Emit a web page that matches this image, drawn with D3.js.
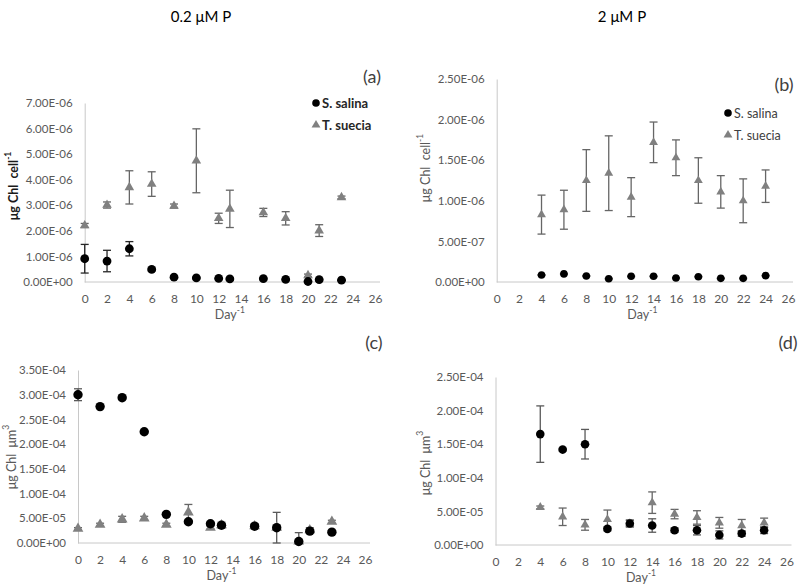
<!DOCTYPE html>
<html>
<head>
<meta charset="utf-8">
<script src="https://cdn.jsdelivr.net/npm/d3@7"></script>
<style>
  html, body { margin: 0; padding: 0; background: #fff; }
  svg { display: block; font-family: Lato, "Open Sans", sans-serif; }
</style>
</head>
<body>
<svg id="chart" width="800" height="584"></svg>
<script>
// ---------- DATA ----------
const titles = ["0.2 μM P", "2 μM P"];
const seriesNames = ["S. salina", "T. suecia"];
const xTicks = [0,2,4,6,8,10,12,14,16,18,20,22,24,26];

// Panel (a): 0.2 µM P, µg Chl cell-1
const daysA = [0,2,4,6,8,10,12,13,16,18,20,21,23];
const salinaA = [0.91e-6,0.82e-6,1.30e-6,0.49e-6,0.19e-6,0.16e-6,0.14e-6,0.12e-6,0.13e-6,0.10e-6,0.02e-6,0.09e-6,0.07e-6];
const salinaAErr = [0.56e-6,0.42e-6,0.28e-6,0.05e-6,0.02e-6,0.02e-6,0.02e-6,0.02e-6,0.02e-6,0.02e-6,0.02e-6,0.02e-6,0.02e-6];
const sueciaA = [2.21e-6,3.01e-6,3.70e-6,3.83e-6,2.97e-6,4.74e-6,2.49e-6,2.86e-6,2.72e-6,2.49e-6,0.26e-6,2.01e-6,3.31e-6];
const sueciaAErr = [0.08e-6,0.12e-6,0.65e-6,0.48e-6,0.08e-6,1.25e-6,0.20e-6,0.73e-6,0.16e-6,0.26e-6,0.05e-6,0.23e-6,0.05e-6];
const yTicksA = [0,1e-6,2e-6,3e-6,4e-6,5e-6,6e-6,7e-6];

// Panel (b): 2 µM P, µg Chl cell-1
const daysB = [4,6,8,10,12,14,16,18,20,22,24];
const salinaB = [0.086e-6,0.10e-6,0.074e-6,0.04e-6,0.07e-6,0.07e-6,0.049e-6,0.065e-6,0.045e-6,0.045e-6,0.078e-6];
const salinaBErr = [0.005e-6,0.005e-6,0.005e-6,0.005e-6,0.005e-6,0.005e-6,0.005e-6,0.005e-6,0.005e-6,0.005e-6,0.005e-6];
const sueciaB = [0.83e-6,0.89e-6,1.25e-6,1.34e-6,1.045e-6,1.72e-6,1.53e-6,1.25e-6,1.11e-6,1.00e-6,1.18e-6];
const sueciaBErr = [0.24e-6,0.24e-6,0.38e-6,0.46e-6,0.24e-6,0.25e-6,0.22e-6,0.28e-6,0.20e-6,0.27e-6,0.20e-6];
const yTicksB = [0,0.5e-6,1e-6,1.5e-6,2e-6,2.5e-6];

// Panel (c): 0.2 µM P, µg Chl µm3
const daysC = [0,2,4,6,8,10,12,13,16,18,20,21,23];
const salinaC = [3.00e-4,2.76e-4,2.94e-4,2.25e-4,0.58e-4,0.43e-4,0.39e-4,0.36e-4,0.34e-4,0.31e-4,0.03e-4,0.24e-4,0.22e-4];
const salinaCErr = [0.12e-4,0.02e-4,0.02e-4,0.02e-4,0.02e-4,0.02e-4,0.03e-4,0.03e-4,0.03e-4,0.31e-4,0.18e-4,0.03e-4,0.02e-4];
const sueciaC = [0.29e-4,0.37e-4,0.48e-4,0.50e-4,0.37e-4,0.62e-4,0.31e-4,0.36e-4,0.34e-4,0.31e-4,0.03e-4,0.26e-4,0.43e-4];
const sueciaCErr = [0.02e-4,0.03e-4,0.06e-4,0.04e-4,0.03e-4,0.16e-4,0.03e-4,0.06e-4,0.05e-4,0.03e-4,0.03e-4,0.05e-4,0.03e-4];
const yTicksC = [0,0.5e-4,1e-4,1.5e-4,2e-4,2.5e-4,3e-4,3.5e-4];

// Panel (d): 2 µM P, µg Chl µm3
const daysD = [4,6,8,10,12,14,16,18,20,22,24];
const salinaD = [1.65e-4,1.42e-4,1.50e-4,0.24e-4,0.32e-4,0.29e-4,0.22e-4,0.22e-4,0.15e-4,0.17e-4,0.22e-4];
const salinaDErr = [0.42e-4,0.02e-4,0.22e-4,0.03e-4,0.05e-4,0.10e-4,0.03e-4,0.07e-4,0.06e-4,0.04e-4,0.05e-4];
const sueciaD = [0.56e-4,0.42e-4,0.30e-4,0.38e-4,0.32e-4,0.63e-4,0.46e-4,0.41e-4,0.33e-4,0.29e-4,0.33e-4];
const sueciaDErr = [0.02e-4,0.13e-4,0.08e-4,0.14e-4,0.05e-4,0.16e-4,0.07e-4,0.10e-4,0.08e-4,0.09e-4,0.07e-4];
const yTicksD = [0,0.5e-4,1e-4,1.5e-4,2e-4,2.5e-4];

// ---------- HELPERS ----------
function excelSci(v) {
  if (v === 0) return "0.00E+00";
  const e = Math.floor(Math.log10(Math.abs(v)) + 1e-9);
  const m = v / Math.pow(10, e);
  const sign = e < 0 ? "-" : "+";
  const ae = Math.abs(e);
  return m.toFixed(2) + "E" + sign + (ae < 10 ? "0" + ae : "" + ae);
}

const svg = d3.select("#chart");
const FONT = "Lato, 'Open Sans', sans-serif";

// Titles
svg.append("text").attr("x", 201).attr("y", 22).attr("text-anchor", "middle")
  .attr("font-size", 15).attr("fill", "#000").text(titles[0]);
svg.append("text").attr("x", 622).attr("y", 22).attr("text-anchor", "middle")
  .attr("font-size", 15).attr("fill", "#000").text(titles[1]);

const panels = [
  { letter: "(a)", days: daysA, s: salinaA, se: salinaAErr, t: sueciaA, te: sueciaAErr, yTicks: yTicksA,
    x0: 84.7, x1: 375, y0: 282, y1: 103, letterPos: [372, 83], ylabX: 13, ylabY: 186,
    ylab: ["μg Chl\u00a0\u00a0cell", "-1"], ylabBold: true, ylabColor: "#1a1a1a",
    legend: { x: 316, y: 103, bold: true, size: 13, color: "#262626" },
    r: 4.4, tri: 40, sBarColor: "#262626" },
  { letter: "(b)", days: daysB, s: salinaB, se: salinaBErr, t: sueciaB, te: sueciaBErr, yTicks: yTicksB,
    x0: 496.7, x1: 788, y0: 282, y1: 79, letterPos: [784, 91], ylabX: 425, ylabY: 168,
    ylab: ["μg Chl\u00a0\u00a0cell", "-1"], ylabBold: false, ylabColor: "#595959",
    legend: { x: 728, y: 113, bold: false, size: 12.5, color: "#404040" },
    r: 3.8, tri: 34, sBarColor: "#595959" },
  { letter: "(c)", days: daysC, s: salinaC, se: salinaCErr, t: sueciaC, te: sueciaCErr, yTicks: yTicksC,
    x0: 78, x1: 365, y0: 543, y1: 370, letterPos: [374, 349], ylabX: 11, ylabY: 457,
    ylab: ["μg Chl\u00a0\u00a0μm", "3"], ylabBold: false, ylabColor: "#595959",
    legend: null, r: 4.7, tri: 50, sBarColor: "#595959" },
  { letter: "(d)", days: daysD, s: salinaD, se: salinaDErr, t: sueciaD, te: sueciaDErr, yTicks: yTicksD,
    x0: 495.5, x1: 786.5, y0: 545, y1: 377, letterPos: [788, 349], ylabX: 425, ylabY: 463,
    ylab: ["μg Chl\u00a0\u00a0μm", "3"], ylabBold: false, ylabColor: "#595959",
    legend: null, r: 4.3, tri: 36, sBarColor: "#595959" }
];

const triColor = "#808080";
const axisColor = "#c8c8c8";
const tickColor = "#595959";

panels.forEach(p => {
  const x = d3.scaleLinear().domain([0, 26]).range([p.x0, p.x1]);
  const yMax = p.yTicks[p.yTicks.length - 1];
  const y = d3.scaleLinear().domain([0, yMax]).range([p.y0, p.y1]);
  const g = svg.append("g");

  // Y axis
  const ya = g.append("g").attr("transform", `translate(${p.x0},0)`)
    .call(d3.axisLeft(y).tickValues(p.yTicks).tickFormat(excelSci).tickSize(0).tickPadding(12));
  ya.select(".domain").attr("stroke", axisColor).attr("stroke-width", 1);
  ya.selectAll("text").attr("font-size", 11.5).attr("fill", tickColor).attr("font-family", FONT);

  // X axis
  const xa = g.append("g").attr("transform", `translate(0,${p.y0})`)
    .call(d3.axisBottom(x).tickValues(xTicks).tickFormat(d3.format("d")).tickSize(0).tickPadding(0));
  xa.select(".domain").attr("d", `M${p.x0},0H${p.x1 + 5}`).attr("stroke", axisColor).attr("stroke-width", 1);
  xa.selectAll("text").attr("font-size", 12).attr("fill", tickColor).attr("font-family", FONT)
    .attr("y", 16).attr("dy", null).attr("dominant-baseline", "central");

  // X title
  const xt = g.append("text").attr("x", (p.x0 + p.x1) / 2).attr("y", p.y0 + 32)
    .attr("dominant-baseline", "central")
    .attr("text-anchor", "middle").attr("font-size", 12.5).attr("fill", tickColor);
  xt.append("tspan").text("Day");
  xt.append("tspan").attr("dy", -4).attr("font-size", 8.5).text("-1");

  // Y title
  const yt = g.append("text")
    .attr("transform", `translate(${p.ylabX},${p.ylabY}) rotate(-90)`)
    .attr("text-anchor", "middle").attr("dominant-baseline", "central")
    .attr("font-size", 12.5).attr("fill", p.ylabColor)
    .attr("font-weight", p.ylabBold ? 700 : 400);
  yt.append("tspan").text(p.ylab[0]);
  yt.append("tspan").attr("dy", -5).attr("font-size", 8.5).text(p.ylab[1]);

  // Panel letter
  g.append("text").attr("x", p.letterPos[0]).attr("y", p.letterPos[1])
    .attr("text-anchor", "middle").attr("font-size", 18).attr("fill", "#404040").text(p.letter);

  const sData = p.days.map((d, i) => ({ d, v: p.s[i], e: p.se[i] }));
  const tData = p.days.map((d, i) => ({ d, v: p.t[i], e: p.te[i] }));

  function errBars(data, color) {
    const eg = g.append("g").attr("stroke", color).attr("stroke-width", 1.3).attr("fill", "none");
    data.forEach(o => {
      const cx = x(o.d), yt = y(o.v + o.e), yb = y(Math.max(0, o.v - o.e));
      eg.append("line").attr("x1", cx).attr("x2", cx).attr("y1", yt).attr("y2", yb);
      eg.append("line").attr("x1", cx - 4).attr("x2", cx + 4).attr("y1", yt).attr("y2", yt);
      eg.append("line").attr("x1", cx - 4).attr("x2", cx + 4).attr("y1", yb).attr("y2", yb);
    });
  }

  // Error bars first (hidden behind markers when small)
  errBars(tData, "#666666");
  errBars(sData, p.sBarColor);

  // Triangles (T. suecia)
  const triSym = d3.symbol().type(d3.symbolTriangle).size(p.tri);
  g.append("g").selectAll("path").data(tData).join("path")
    .attr("d", triSym).attr("fill", triColor)
    .attr("transform", o => `translate(${x(o.d)},${y(o.v)})`);

  // Circles (S. salina)
  g.append("g").selectAll("circle").data(sData).join("circle")
    .attr("cx", o => x(o.d)).attr("cy", o => y(o.v)).attr("r", p.r).attr("fill", "#000");

  // Legend
  if (p.legend) {
    const L = p.legend;
    const lg = g.append("g");
    lg.append("circle").attr("cx", L.x).attr("cy", L.y).attr("r", 3.8).attr("fill", "#000");
    lg.append("path").attr("d", d3.symbol().type(d3.symbolTriangle).size(34)())
      .attr("transform", `translate(${L.x},${L.y + 22})`).attr("fill", triColor);
    lg.append("text").attr("x", L.x + 6).attr("y", L.y).attr("dominant-baseline", "central")
      .attr("font-size", L.size).attr("font-weight", L.bold ? 700 : 400).attr("fill", L.color).text(seriesNames[0]);
    lg.append("text").attr("x", L.x + 6).attr("y", L.y + 22).attr("dominant-baseline", "central")
      .attr("font-size", L.size).attr("font-weight", L.bold ? 700 : 400).attr("fill", L.color).text(seriesNames[1]);
  }
});
</script>
</body>
</html>
